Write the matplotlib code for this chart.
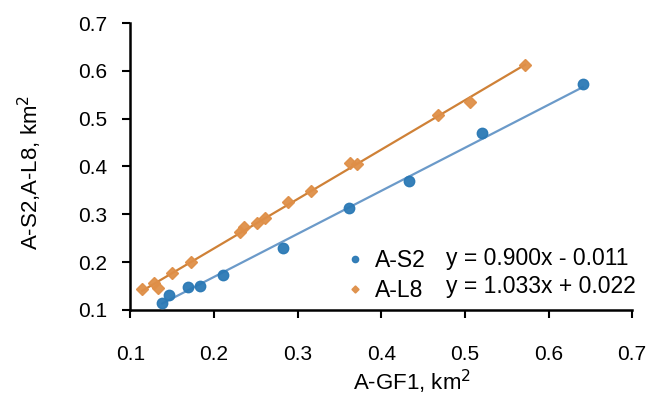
import numpy as np
import matplotlib
matplotlib.use("Agg")
import matplotlib.pyplot as plt

# A-S2 vs A-GF1
s2_x = [0.138, 0.146, 0.169, 0.183, 0.211, 0.282, 0.361, 0.433, 0.521, 0.641]
s2_y = [0.115, 0.131, 0.148, 0.150, 0.173, 0.230, 0.314, 0.370, 0.469, 0.572]
s2_fit = [0.900, -0.011]

# A-L8 vs A-GF1
l8_x = [0.114, 0.128, 0.133, 0.150, 0.172, 0.231, 0.236, 0.251, 0.261, 0.289,
        0.316, 0.363, 0.371, 0.468, 0.506, 0.572]
l8_y = [0.143, 0.157, 0.146, 0.177, 0.200, 0.262, 0.273, 0.282, 0.293, 0.326,
        0.348, 0.408, 0.406, 0.507, 0.534, 0.613]
l8_fit = [1.033, 0.022]

ticks = [0.1, 0.2, 0.3, 0.4, 0.5, 0.6, 0.7]

plt.rcParams.update({
    "font.family": ["Liberation Sans", "DejaVu Sans"],
    "font.size": 15,
})

fig = plt.figure(figsize=(6.49, 4.04), dpi=100)
ax = fig.add_axes([0.201, 0.233, 0.773, 0.710])

blue_pt, blue_ln = "#2b79b5", "#6b9ac9"
orng_pt, orng_ln = "#df8f48", "#cf8137"

# trendlines over data range
xs = np.array([min(s2_x), max(s2_x)])
ax.plot(xs, s2_fit[0] * xs + s2_fit[1], color=blue_ln, lw=1.6, zorder=2)
xl = np.array([min(l8_x), max(l8_x)])
ax.plot(xl, l8_fit[0] * xl + l8_fit[1], color=orng_ln, lw=1.6, zorder=2)

ax.plot(s2_x, s2_y, "o", color=blue_pt, ms=7.5, mec=blue_pt, alpha=0.95,
        label="A-S2", zorder=3)
ax.plot(l8_x, l8_y, "D", color=orng_pt, ms=6, mec=orng_pt, alpha=0.95,
        label="A-L8", zorder=3)

ax.set_xlim(0.1, 0.7)
ax.set_ylim(0.1, 0.7)
ax.set_xticks(ticks)
ax.set_yticks(ticks)
ax.set_xticklabels([f"{t:.1f}" for t in ticks])
ax.set_yticklabels([f"{t:.1f}" for t in ticks])
ax.tick_params(direction="out", length=5.5, width=1.5, color="black")
ax.tick_params(axis="x", pad=20)
ax.tick_params(axis="y", pad=11)
for s in ["top", "right"]:
    ax.spines[s].set_visible(False)
for s in ["left", "bottom"]:
    ax.spines[s].set_linewidth(1.8)

ax.set_xlabel("A-GF1, km$^2$", fontsize=16)
ax.xaxis.set_label_coords(0.561, -0.251)
ax.xaxis.label.set_va("center")
ax.set_ylabel("A-S2,A-L8, km$^2$", fontsize=16)
ax.yaxis.set_label_coords(-0.2, 0.48)
ax.yaxis.label.set_va("center")

leg = ax.legend(loc="center left", bbox_to_anchor=(0.529, 0.318),
                bbox_transform=fig.transFigure, frameon=False, fontsize=16.5,
                markerscale=0.6, handlelength=1.0, handletextpad=0.37,
                labelspacing=0.3, borderpad=0, borderaxespad=0)
fig.text(446 / 649, 1 - 265 / 404, f"y = {s2_fit[0]:.3f}x - {abs(s2_fit[1]):.3f}",
         va="baseline", ha="left", fontsize=16.5)
fig.text(446 / 649, 1 - 293 / 404, f"y = {l8_fit[0]:.3f}x + {l8_fit[1]:.3f}",
         va="baseline", ha="left", fontsize=16.5)

fig.savefig("out.png", dpi=100)
